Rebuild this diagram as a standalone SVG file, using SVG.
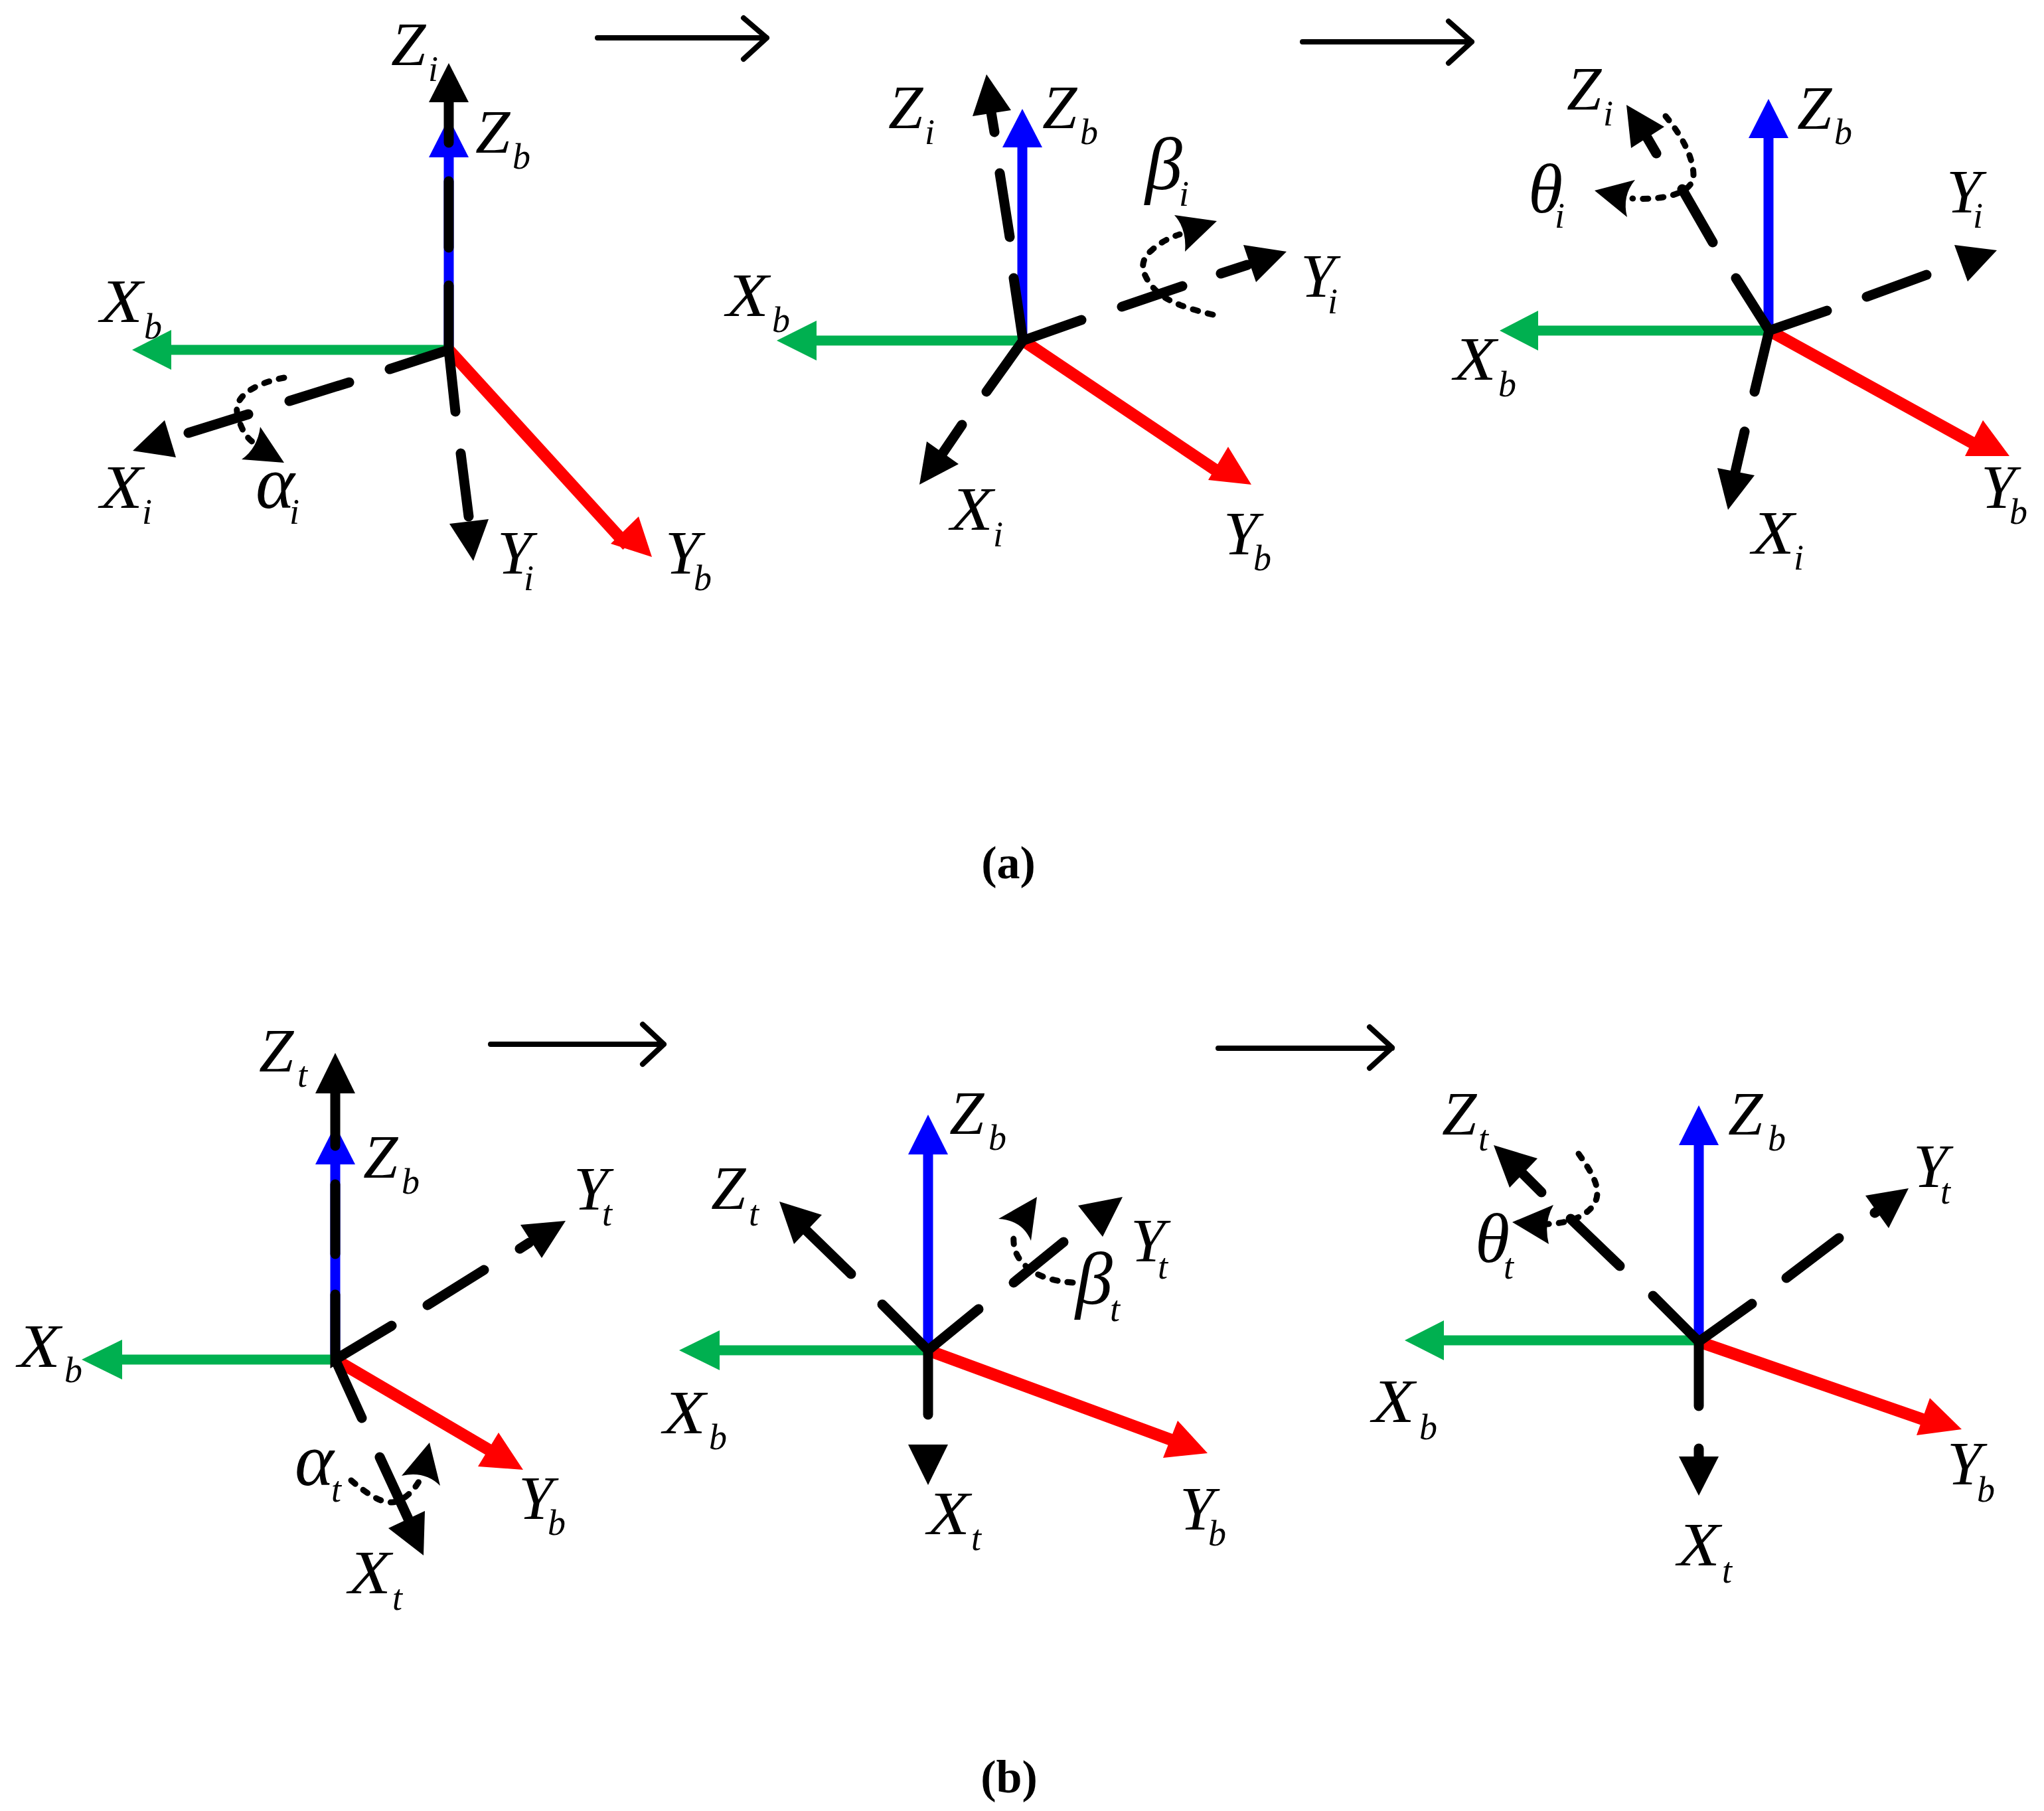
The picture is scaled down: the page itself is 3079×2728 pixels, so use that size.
<svg xmlns="http://www.w3.org/2000/svg" width="3079" height="2728" viewBox="0 0 3079 2728">
<style>
text{font-family:"Liberation Serif","Times New Roman",serif;fill:#000}
.l{font-style:italic}
.m{font-size:94px}
.g{font-size:112px}
.h{font-size:106px}
.s{font-size:54px}
.cap{font-size:70px;font-weight:bold;text-anchor:middle}
.bl{stroke:#0000ff;stroke-width:15;fill:none}
.gr{stroke:#00b050;stroke-width:15;fill:none}
.rd{stroke:#ff0000;stroke-width:18;fill:none}
.k{stroke:#000;stroke-width:15;fill:none;stroke-linecap:round}
.t{stroke:#000;stroke-width:8;fill:none;stroke-linecap:round;stroke-linejoin:round}
.d{stroke:#000;stroke-width:9;fill:none;stroke-linecap:round;stroke-dasharray:8 15}
.fb{fill:#0000ff}.fg{fill:#00b050}.fr{fill:#ff0000}.fk{fill:#000}
</style>
<rect width="3079" height="2728" fill="#fff"/>
<g id="connectors">
<path class="t" d="M900 57H1155M1120 27L1155 57L1120 89"/>
<path class="t" d="M1962 63H2217M2182 32L2217 63L2182 95"/>
<path class="t" d="M739 1573H1000M968 1543L1000 1573L968 1603"/>
<path class="t" d="M1835 1579H2097M2063 1547L2097 1578L2063 1609"/>
</g>
<g id="frame-a1">
<path class="bl" d="M676 527V230"/><polygon class="fb" points="676,178 706,237 646,237"/>
<path class="gr" d="M676 527H250"/><polygon class="fg" points="199,527 258,497 258,557"/>
<path class="rd" d="M676 527L945 822"/><polygon class="fr" points="982,839 962,778 920,819"/>
<path class="k" d="M676 154V215M676 273V373M676 430V527L587 556M526 576L436 604M374 624L284 652M676 527L686 620M694 683L706 778"/>
<polygon class="fk" points="676,95 706,154 646,154"/>
<polygon class="fk" points="248,633 200,679 265,689"/>
<polygon class="fk" points="677,789 736,782 713,845"/>
<path class="d" d="M428 569C380 578 350 600 358 625C362 645 372 660 381 666"/>
<path class="fk" d="M392 643L428 697L364 692Q388 675 392 643Z"/>
<text class="l"><tspan class="m" x="589" y="98">Z</tspan><tspan class="s" x="645" y="122">i</tspan></text>
<text class="l"><tspan class="m" x="716" y="230">Z</tspan><tspan class="s" x="772" y="254">b</tspan></text>
<text class="l"><tspan class="m" x="151" y="485" textLength="64" lengthAdjust="spacingAndGlyphs">X</tspan><tspan class="s" x="217" y="510">b</tspan></text>
<text class="l"><tspan class="m" x="151" y="765" textLength="64" lengthAdjust="spacingAndGlyphs">X</tspan><tspan class="s" x="214" y="789">i</tspan></text>
<text class="l"><tspan class="g" x="385" y="765">α</tspan><tspan class="s" x="436" y="789">i</tspan></text>
<text class="l"><tspan class="m" x="749" y="864">Y</tspan><tspan class="s" x="789" y="889">i</tspan></text>
<text class="l"><tspan class="m" x="1002" y="864">Y</tspan><tspan class="s" x="1045" y="889">b</tspan></text>
</g>
<g id="frame-a2">
<path class="bl" d="M1540 513V215"/><polygon class="fb" points="1540,164 1570,222 1510,222"/>
<path class="gr" d="M1541 513H1222"/><polygon class="fg" points="1170,513 1230,483 1230,543"/>
<path class="rd" d="M1541 513L1840 714"/><polygon class="fr" points="1885,730 1850,673 1820,723"/>
<path class="k" d="M1541 513L1527 419M1521 357L1506 261M1498 199L1493 169M1541 513L1486 590M1449 640L1415 690M1541 513L1629 482M1781 431L1690 462M1839 412L1879 399"/>
<polygon class="fk" points="1486,112 1465,175 1523,166"/>
<polygon class="fk" points="1385,730 1396,665 1444,699"/>
<polygon class="fk" points="1938,379 1873,369 1892,425"/>
<path class="d" d="M1827 474C1790 465 1755 455 1736 432C1718 410 1716 392 1736 376C1748 365 1762 358 1777 353"/>
<path class="fk" d="M1833 333L1769 324Q1788 345 1785 379Z"/>
<text class="l"><tspan class="m" x="1338" y="193">Z</tspan><tspan class="s" x="1393" y="217">i</tspan></text>
<text class="l"><tspan class="m" x="1570" y="193">Z</tspan><tspan class="s" x="1627" y="217">b</tspan></text>
<text class="l"><tspan class="g" x="1725" y="285">β</tspan><tspan class="s" x="1776" y="310">i</tspan></text>
<text class="l"><tspan class="m" x="1959" y="447">Y</tspan><tspan class="s" x="2000" y="472">i</tspan></text>
<text class="l"><tspan class="m" x="1094" y="476" textLength="64" lengthAdjust="spacingAndGlyphs">X</tspan><tspan class="s" x="1163" y="500">b</tspan></text>
<text class="l"><tspan class="m" x="1432" y="798" textLength="64" lengthAdjust="spacingAndGlyphs">X</tspan><tspan class="s" x="1496" y="823">i</tspan></text>
<text class="l"><tspan class="m" x="1843" y="835">Y</tspan><tspan class="s" x="1888" y="859">b</tspan></text>
</g>
<g id="frame-a3">
<path class="bl" d="M2664 498V200"/><polygon class="fb" points="2664,149 2694,208 2634,208"/>
<path class="gr" d="M2665 498H2310"/><polygon class="fg" points="2259,498 2317,468 2317,528"/>
<path class="rd" d="M2665 498L2980 672"/><polygon class="fr" points="3027,687 2987,633 2960,687"/>
<path class="k" d="M2665 498L2615 419M2580 365L2534 285M2495 231L2481 207M2665 498L2643 590M2628 650L2613 715M2665 498L2752 468M2902 414L2812 447"/>
<polygon class="fk" points="2450,158 2457,223 2507,191"/>
<polygon class="fk" points="2603,768 2587,705 2643,716"/>
<polygon class="fk" points="2944,369 3008,377 2964,424"/>
<path class="d" d="M2509 175C2530 200 2551 235 2551 264C2551 290 2510 302 2459 299"/>
<path class="fk" d="M2402 287L2463 271Q2443 295 2451 327Z"/>
<text class="l"><tspan class="m" x="2360" y="165">Z</tspan><tspan class="s" x="2415" y="189">i</tspan></text>
<text class="l"><tspan class="h" x="2302" y="320">θ</tspan><tspan class="s" x="2342" y="343">i</tspan></text>
<text class="l"><tspan class="m" x="2707" y="194">Z</tspan><tspan class="s" x="2763" y="217">b</tspan></text>
<text class="l"><tspan class="m" x="2932" y="320">Y</tspan><tspan class="s" x="2972" y="343">i</tspan></text>
<text class="l"><tspan class="m" x="2190" y="572" textLength="64" lengthAdjust="spacingAndGlyphs">X</tspan><tspan class="s" x="2257" y="597">b</tspan></text>
<text class="l"><tspan class="m" x="2639" y="834" textLength="64" lengthAdjust="spacingAndGlyphs">X</tspan><tspan class="s" x="2702" y="858">i</tspan></text>
<text class="l"><tspan class="m" x="2984" y="765">Y</tspan><tspan class="s" x="3027" y="789">b</tspan></text>
</g>
<g id="frame-b1">
<path class="bl" d="M505 2048V1745"/><polygon class="fb" points="505,1695 535,1754 475,1754"/>
<path class="gr" d="M505 2048H176"/><polygon class="fg" points="123,2048 184,2018 184,2078"/>
<path class="rd" d="M505 2048L740 2186"/><polygon class="fr" points="788,2214 751,2158 720,2209"/>
<path class="k" d="M505 1647V1726M505 1784V1889M505 1950V2048L590 1997M729 1913L644 1966M783 1881L797 1872M505 2048L545 2136M572 2195L615 2288"/>
<polygon class="fk" points="505,1586 535,1647 475,1647"/>
<polygon class="fk" points="852,1839 784,1845 816,1895"/>
<polygon class="fk" points="638,2343 585,2302 640,2276"/>
<path class="d" d="M529 2230C555 2252 575 2264 590 2263C610 2262 628 2240 635 2224"/>
<path class="fk" d="M647 2173L605 2223Q640 2215 663 2238Z"/>
<text class="l"><tspan class="m" x="390" y="1614">Z</tspan><tspan class="s" x="448" y="1637">t</tspan></text>
<text class="l"><tspan class="m" x="547" y="1774">Z</tspan><tspan class="s" x="605" y="1798">b</tspan></text>
<text class="l"><tspan class="m" x="27" y="2059" textLength="64" lengthAdjust="spacingAndGlyphs">X</tspan><tspan class="s" x="97" y="2082">b</tspan></text>
<text class="l"><tspan class="m" x="864" y="1822">Y</tspan><tspan class="s" x="907" y="1846">t</tspan></text>
<text class="l"><tspan class="m" x="781" y="2288">Y</tspan><tspan class="s" x="825" y="2312">b</tspan></text>
<text class="l"><tspan class="g" x="444" y="2237">α</tspan><tspan class="s" x="499" y="2262">t</tspan></text>
<text class="l"><tspan class="m" x="525" y="2400" textLength="64" lengthAdjust="spacingAndGlyphs">X</tspan><tspan class="s" x="591" y="2425">t</tspan></text>
</g>
<g id="frame-b2">
<path class="bl" d="M1398 2034V1730"/><polygon class="fb" points="1398,1679 1428,1739 1368,1739"/>
<path class="gr" d="M1398 2034H1075"/><polygon class="fg" points="1023,2034 1084,2004 1084,2064"/>
<path class="rd" d="M1398 2034L1770 2171"/><polygon class="fr" points="1819,2189 1774,2140 1752,2196"/>
<path class="k" d="M1398 2034V2131M1398 2034L1329 1965M1282 1919L1211 1850M1398 2034L1474 1972M1602 1871L1527 1932"/>
<polygon class="fk" points="1398,2237 1368,2176 1428,2176"/>
<polygon class="fk" points="1174,1810 1196,1874 1238,1830"/>
<polygon class="fk" points="1691,1803 1624,1816 1661,1863"/>
<path class="d" d="M1616 1932C1585 1930 1558 1922 1540 1902C1528 1888 1526 1875 1527 1860"/>
<path class="fk" d="M1504 1836L1562 1803L1553 1869Q1540 1838 1504 1836Z"/>
<text class="l"><tspan class="m" x="1430" y="1708">Z</tspan><tspan class="s" x="1489" y="1732">b</tspan></text>
<text class="l"><tspan class="m" x="1071" y="1821">Z</tspan><tspan class="s" x="1128" y="1846">t</tspan></text>
<text class="l"><tspan class="m" x="1703" y="1900">Y</tspan><tspan class="s" x="1744" y="1926">t</tspan></text>
<text class="l"><tspan class="g" x="1620" y="1964">β</tspan><tspan class="s" x="1672" y="1990">t</tspan></text>
<text class="l"><tspan class="m" x="999" y="2159" textLength="64" lengthAdjust="spacingAndGlyphs">X</tspan><tspan class="s" x="1068" y="2183">b</tspan></text>
<text class="l"><tspan class="m" x="1397" y="2311" textLength="64" lengthAdjust="spacingAndGlyphs">X</tspan><tspan class="s" x="1463" y="2335">t</tspan></text>
<text class="l"><tspan class="m" x="1777" y="2304">Y</tspan><tspan class="s" x="1820" y="2328">b</tspan></text>
</g>
<g id="frame-b3">
<path class="bl" d="M2559 2021V1715"/><polygon class="fb" points="2559,1665 2589,1725 2529,1725"/>
<path class="gr" d="M2559 2019H2168"/><polygon class="fg" points="2116,2019 2175,1989 2175,2049"/>
<path class="rd" d="M2559 2021L2905 2141"/><polygon class="fr" points="2955,2153 2907,2106 2887,2162"/>
<path class="k" d="M2559 2021V2118M2559 2182V2197M2559 2021L2490 1952M2440 1907L2366 1836M2322 1796L2293 1767M2559 2021L2639 1964M2770 1865L2691 1925M2824 1827L2837 1818"/>
<polygon class="fk" points="2559,2253 2529,2194 2589,2194"/>
<polygon class="fk" points="2250,1725 2274,1789 2316,1745"/>
<polygon class="fk" points="2875,1790 2810,1801 2845,1850"/>
<path class="d" d="M2378 1738C2395 1762 2406 1780 2406 1797C2406 1825 2370 1844 2326 1844"/>
<path class="fk" d="M2278 1841L2340 1815Q2325 1842 2333 1874Z"/>
<text class="l"><tspan class="m" x="2172" y="1709">Z</tspan><tspan class="s" x="2227" y="1733">t</tspan></text>
<text class="l"><tspan class="m" x="2603" y="1709">Z</tspan><tspan class="s" x="2663" y="1733">b</tspan></text>
<text class="l"><tspan class="m" x="2882" y="1788">Y</tspan><tspan class="s" x="2923" y="1813">t</tspan></text>
<text class="l"><tspan class="h" x="2222" y="1901">θ</tspan><tspan class="s" x="2265" y="1926">t</tspan></text>
<text class="l"><tspan class="m" x="2067" y="2142" textLength="64" lengthAdjust="spacingAndGlyphs">X</tspan><tspan class="s" x="2138" y="2168">b</tspan></text>
<text class="l"><tspan class="m" x="2933" y="2236">Y</tspan><tspan class="s" x="2978" y="2262">b</tspan></text>
<text class="l"><tspan class="m" x="2527" y="2358" textLength="64" lengthAdjust="spacingAndGlyphs">X</tspan><tspan class="s" x="2594" y="2384">t</tspan></text>
</g>
<text class="cap" x="1519" y="1323">(a)</text>
<text class="cap" x="1520" y="2700">(b)</text>
</svg>
